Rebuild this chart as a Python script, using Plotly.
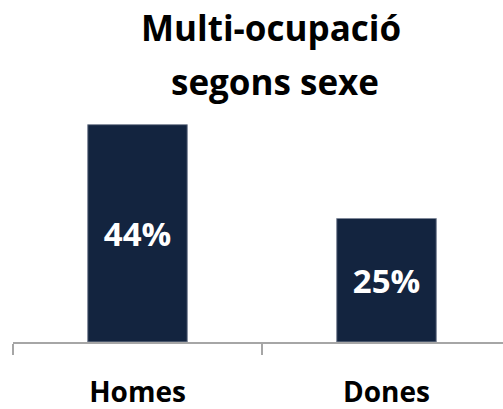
import plotly.graph_objects as go

categories = ["Homes", "Dones"]
values = [44, 25]
title_lines = ["Multi-ocupació", "segons sexe"]

W, H = 503, 409
ml, mr, mt, mb = 13, 0, 95.4, 67
plot_w = W - ml - mr
plot_h = H - mt - mb

def py(page_y):
    return (H - mb - page_y) / plot_h

def px(page_x):
    return (page_x - ml) / plot_w

FONT = "Open Sans"

fig = go.Figure(go.Bar(
    x=categories, y=values,
    marker=dict(color="#13243F", line=dict(color="#7f8899", width=1)),
    texttemplate="%{y}%",
    textposition="inside",
    insidetextanchor="middle",
    textfont=dict(family=FONT, size=33, color="white", weight="bold"),
    width=0.4,
))

fig.add_annotation(text=title_lines[0], x=px(271), y=py(28), xref="paper", yref="paper",
                   xanchor="center", yanchor="middle", showarrow=False,
                   font=dict(family=FONT, size=35, color="black", weight="bold"))
fig.add_annotation(text=title_lines[1], x=px(275), y=py(82), xref="paper", yref="paper",
                   xanchor="center", yanchor="middle", showarrow=False,
                   font=dict(family=FONT, size=35, color="black", weight="bold"))

fig.update_layout(
    width=W, height=H,
    margin=dict(l=ml, r=mr, t=mt, b=mb, autoexpand=False),
    plot_bgcolor="white", paper_bgcolor="white",
    showlegend=False,
    xaxis=dict(
        range=[-0.5, -0.5 + plot_w / 249],
        showline=True, linecolor="#a6a6a6", linewidth=1.5,
        ticks="outside", tickson="boundaries", ticklen=11, tickcolor="#a6a6a6", tickwidth=1.5,
        tickfont=dict(family=FONT, size=28, color="black", weight="bold"),
        ticklabelstandoff=25,
        showgrid=False, zeroline=False, automargin=False,
    ),
    yaxis=dict(range=[0, 50], visible=False, showgrid=False, zeroline=False),
)

fig.write_html("out.html",
               config={"displayModeBar": False},
               post_script="document.body.style.margin='0';document.body.style.overflow='hidden';")
